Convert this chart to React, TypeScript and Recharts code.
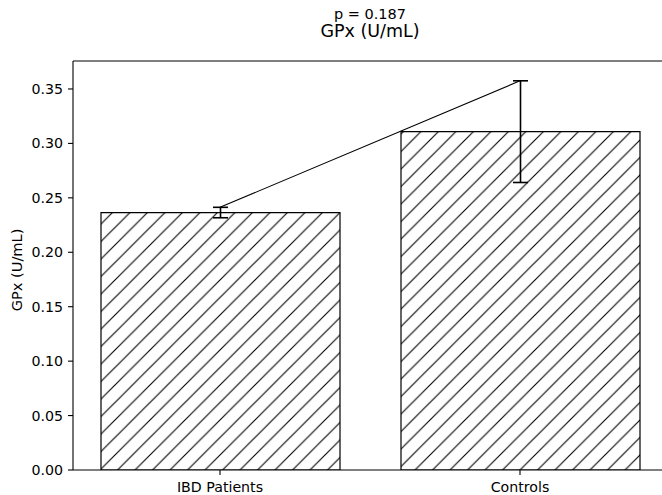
import React from "react";
import { ComposedChart, Bar, Line, XAxis, YAxis, ErrorBar, ReferenceLine } from "recharts";

const groups = ["IBD Patients", "Controls"];
const means = [0.2365, 0.3108];
const errors = [0.0048, 0.0467];
const yTicks = [0, 0.05, 0.1, 0.15, 0.2, 0.25, 0.3, 0.35];
const yMax = 0.3757;

const data = groups.map((g, i) => ({
  pos: i,
  name: g,
  mean: means[i],
  err: errors[i],
  top: means[i] + errors[i],
}));

const font = "'DejaVu Sans', sans-serif";

const App: React.FC = () => (
  <div style={{ position: "absolute", left: 0, top: 0, width: 662, height: 495, overflow: "hidden", background: "#fff", fontFamily: font }}>
    <div style={{ position: "absolute", left: 0, width: 740, top: 6, textAlign: "center", fontSize: 14.5, color: "#000", lineHeight: "17px" }}>
      p = 0.187
    </div>
    <div style={{ position: "absolute", left: 0, width: 740, top: 20, textAlign: "center", fontSize: 17.5, color: "#000", lineHeight: "22px" }}>
      GPx (U/mL)
    </div>
    <div style={{ position: "absolute", left: 16, top: 270, transform: "translate(-50%, -50%) rotate(-90deg)", fontSize: 14.6, color: "#000", whiteSpace: "nowrap" }}>
      GPx (U/mL)
    </div>
    <div style={{ position: "absolute", left: 0, top: 0 }}>
      <ComposedChart width={680} height={495} data={data} margin={{ top: 61, right: 13, bottom: 0, left: 0 }}>
        <defs>
          <pattern id="hatch" patternUnits="userSpaceOnUse" x={10} y={0} width={17.5} height={17.5}>
            <rect x={0} y={0} width={17.5} height={17.5} fill="#fff" />
            <path d="M0,17.5 L17.5,0 M-2,2 L2,-2 M15.5,19.5 L19.5,15.5" stroke="#000" strokeWidth={1.1} />
          </pattern>
        </defs>
        <XAxis
          dataKey="pos"
          type="number"
          domain={[-0.49, 1.49]}
          ticks={[0, 1]}
          tickFormatter={(v: number) => groups[v]}
          height={25}
          tickSize={5}
          tickMargin={7}
          stroke="#000"
          strokeWidth={1.1}
          tick={{ fill: "#000", fontSize: 14.2, fontFamily: font }}
          allowDataOverflow
        />
        <YAxis
          type="number"
          domain={[0, yMax]}
          ticks={yTicks}
          tickFormatter={(v: number) => v.toFixed(2)}
          width={73}
          tickSize={5}
          tickMargin={5}
          stroke="#000"
          strokeWidth={1.1}
          tick={{ fill: "#000", fontSize: 14.2, fontFamily: font }}
          allowDataOverflow
        />
        <ReferenceLine y={yMax} stroke="#000" strokeWidth={1.1} ifOverflow="visible" />
        <ReferenceLine x={1.49} stroke="#000" strokeWidth={1.1} ifOverflow="visible" />
        <Bar dataKey="mean" barSize={239} fill="url(#hatch)" stroke="#000" strokeWidth={1.2} isAnimationActive={false}>
          <ErrorBar dataKey="err" direction="y" width={7.5} stroke="#000" strokeWidth={1.6} />
        </Bar>
        <Line dataKey="top" stroke="#000" strokeWidth={1.1} dot={false} activeDot={false} isAnimationActive={false} />
      </ComposedChart>
    </div>
  </div>
);

export default App;
